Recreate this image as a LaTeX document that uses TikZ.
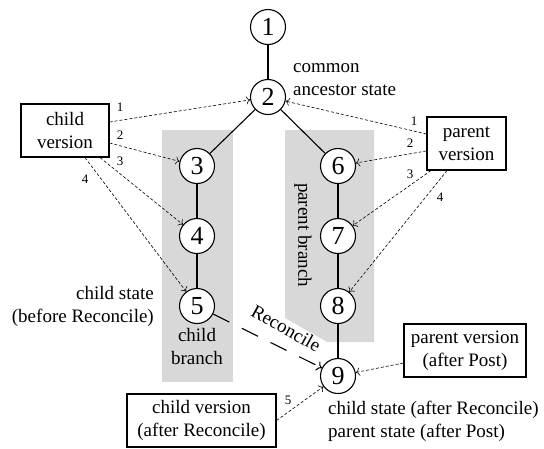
\documentclass[tikz,border=0pt]{standalone}
\usepackage{fontspec}
\setmainfont{Liberation Serif}
\usetikzlibrary{arrows.meta,calc}
\definecolor{branchgray}{RGB}{216,216,216}
\begin{document}
\begin{tikzpicture}[x=1pt,y=-1pt,
  state/.style={circle,draw,line width=1.1pt,fill=white,minimum size=35pt,inner sep=0pt,
    font=\fontsize{26}{26}\selectfont},
  verbox/.style={draw,line width=1.1pt,fill=white,align=center,inner sep=0pt,
    minimum height=53pt,font=\fontsize{19}{23}\selectfont},
  txt/.style={font=\fontsize{19}{23}\selectfont,inner sep=0pt},
  lbl/.style={font=\fontsize{13}{13}\selectfont,inner sep=0pt},
  tree/.style={line width=1.1pt},
  ptr/.style={line width=0.6pt,dash pattern=on 3pt off 2pt,-{To[length=4pt,width=8pt]}},
  recon/.style={line width=1.1pt,dash pattern=on 18pt off 14pt,-{To[length=5pt,width=10pt]}},
  branch/.style={fill=branchgray}]
\useasboundingbox (0,0) rectangle (544,448);

% shaded branches
\fill[branch] (162,130) rectangle (233,382);
\fill[branch] (285,130) -- (374,130) -- (374,342) -- (327,342) -- (285,318) -- cycle;

% state nodes
\node[state] (n1) at (268,27)  {1};
\node[state] (n2) at (268,97)  {2};
\node[state] (n3) at (197,166) {3};
\node[state] (n4) at (197,236) {4};
\node[state] (n5) at (197,306) {5};
\node[state] (n6) at (338,166) {6};
\node[state] (n7) at (338,236) {7};
\node[state] (n8) at (338,306) {8};
\node[state] (n9) at (338,376) {9};

% history edges
\draw[tree] (n1) -- (n2);
\draw[tree] (n2) -- (n3);
\draw[tree] (n2) -- (n6);
\draw[tree] (n3) -- (n4);
\draw[tree] (n4) -- (n5);
\draw[tree] (n6) -- (n7);
\draw[tree] (n7) -- (n8);
\draw[tree] (n8) -- (n9);

% version pointers
\node[verbox,minimum width=88pt] (cv) at (65,130.5) {child\\version};
\node[verbox,minimum width=79pt] (pv) at (466.5,143.5) {parent\\version};
\node[verbox,minimum width=122pt] (pa) at (465,350.5) {parent version\\(after Post)};
\node[verbox,minimum width=149pt] (ca) at (201.5,420.5) {child version\\(after Reconcile)};

\coordinate (cvA) at ([yshift=8.5pt]cv.east);
\coordinate (cvB) at ([yshift=-12.5pt]cv.east);
\coordinate (cvC) at ([xshift=35pt]cv.south);
\coordinate (cvD) at ([xshift=20pt]cv.south);
\coordinate (pvA) at ([yshift=9.5pt]pv.west);
\coordinate (pvB) at ([yshift=-7.5pt]pv.west);
\coordinate (pvC) at ([xshift=-35.5pt]pv.south);
\coordinate (pvD) at ([xshift=-19.5pt]pv.south);
\coordinate (paA) at ([yshift=-12.5pt]pa.west);

\draw[ptr] (cvA) -- (n2);
\draw[ptr] (cvB) -- (n3);
\draw[ptr] (cvC) -- (n4);
\draw[ptr] (cvD) -- (n5);
\draw[ptr] (pvA) -- (n2);
\draw[ptr] (pvB) -- (n6);
\draw[ptr] (pvC) -- (n7);
\draw[ptr] (pvD) -- (n8);
\draw[ptr] (paA) -- (n9);
\draw[ptr] (ca.east) -- (n9);

\node[lbl] (l1) at (120,107) {1};
\node[lbl] (l2) at (120,135) {2};
\node[lbl] (l3) at (120,161) {3};
\node[lbl] (l4) at (85,179)  {4};
\node[lbl] (r1) at (414,121) {1};
\node[lbl] (r2) at (410,143) {2};
\node[lbl] (r3) at (410,174) {3};
\node[lbl] (r4) at (440,197) {4};
\node[lbl] (l5) at (288,400) {5};

% reconcile step
\draw[recon] (n5) -- (n9);
\node[txt,anchor=base,rotate=-29] (rc) at (283,334) {Reconcile};

% annotations (base anchor sits on the last line)
\node[txt,align=left,anchor=base west] (anc) at (293,95) {common\\ancestor state};
\node[txt,align=right,anchor=base east] (cs) at (154,322) {child state\\(before Reconcile)};
\node[txt,align=center,anchor=base] (cb) at (197,364) {child\\branch};
\node[txt,rotate=-90] (pb) at (303,235) {parent branch};
\node[txt,align=left,anchor=base west] (fs) at (328,437) {child state (after Reconcile)\\parent state (after Post)};
\end{tikzpicture}
\end{document}
